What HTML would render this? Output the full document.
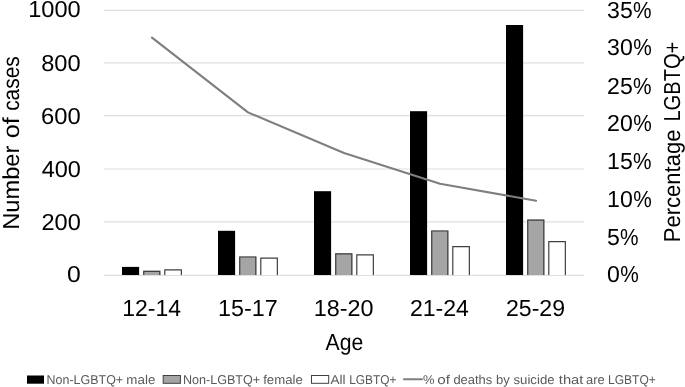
<!DOCTYPE html>
<html><head><meta charset="utf-8"><style>
html,body{margin:0;padding:0;background:#fff;}
body{width:685px;height:387px;overflow:hidden;}
svg{display:block;font-family:"Liberation Sans",sans-serif;will-change:transform;text-rendering:geometricPrecision;}
</style></head><body>
<svg width="685" height="387" viewBox="0 0 685 387">
<line x1="104" x2="584" y1="10.40" y2="10.40" stroke="#dfdfdf" stroke-width="1.1"/>
<line x1="104" x2="584" y1="62.90" y2="62.90" stroke="#dfdfdf" stroke-width="1.1"/>
<line x1="104" x2="584" y1="115.60" y2="115.60" stroke="#dfdfdf" stroke-width="1.1"/>
<line x1="104" x2="584" y1="169.00" y2="169.00" stroke="#dfdfdf" stroke-width="1.1"/>
<line x1="104" x2="584" y1="221.90" y2="221.90" stroke="#dfdfdf" stroke-width="1.1"/>
<line x1="104" x2="584" y1="275.40" y2="275.40" stroke="#dfdfdf" stroke-width="1.1"/>
<rect x="122.00" y="266.90" width="17.1" height="8.10" fill="#000"/>
<rect x="143.15" y="270.70" width="17.25" height="4.30" fill="#a5a5a5"/>
<path d="M143.75,275.0 V271.30 H159.80 V275.0" fill="none" stroke="#404040" stroke-width="1.2"/>
<rect x="164.20" y="269.20" width="17.75" height="5.80" fill="#fff"/>
<path d="M164.80,275.0 V269.80 H181.35 V275.0" fill="none" stroke="#404040" stroke-width="1.2"/>
<rect x="218.00" y="230.80" width="17.1" height="44.20" fill="#000"/>
<rect x="239.15" y="256.40" width="17.25" height="18.60" fill="#a5a5a5"/>
<path d="M239.75,275.0 V257.00 H255.80 V275.0" fill="none" stroke="#404040" stroke-width="1.2"/>
<rect x="260.20" y="257.60" width="17.75" height="17.40" fill="#fff"/>
<path d="M260.80,275.0 V258.20 H277.35 V275.0" fill="none" stroke="#404040" stroke-width="1.2"/>
<rect x="314.00" y="191.20" width="17.1" height="83.80" fill="#000"/>
<rect x="335.15" y="253.20" width="17.25" height="21.80" fill="#a5a5a5"/>
<path d="M335.75,275.0 V253.80 H351.80 V275.0" fill="none" stroke="#404040" stroke-width="1.2"/>
<rect x="356.20" y="254.30" width="17.75" height="20.70" fill="#fff"/>
<path d="M356.80,275.0 V254.90 H373.35 V275.0" fill="none" stroke="#404040" stroke-width="1.2"/>
<rect x="410.00" y="111.20" width="17.1" height="163.80" fill="#000"/>
<rect x="431.15" y="230.40" width="17.25" height="44.60" fill="#a5a5a5"/>
<path d="M431.75,275.0 V231.00 H447.80 V275.0" fill="none" stroke="#404040" stroke-width="1.2"/>
<rect x="452.20" y="246.10" width="17.75" height="28.90" fill="#fff"/>
<path d="M452.80,275.0 V246.70 H469.35 V275.0" fill="none" stroke="#404040" stroke-width="1.2"/>
<rect x="506.00" y="25.00" width="17.1" height="250.00" fill="#000"/>
<rect x="527.15" y="219.50" width="17.25" height="55.50" fill="#a5a5a5"/>
<path d="M527.75,275.0 V220.10 H543.80 V275.0" fill="none" stroke="#404040" stroke-width="1.2"/>
<rect x="548.20" y="241.00" width="17.75" height="34.00" fill="#fff"/>
<path d="M548.80,275.0 V241.60 H565.35 V275.0" fill="none" stroke="#404040" stroke-width="1.2"/>
<polyline points="152,37.6 248,112.4 344,153.0 440,183.8 536,200.7" fill="none" stroke="#7f7f7f" stroke-width="2.1" stroke-linecap="round" stroke-linejoin="round"/>
<text transform="matrix(1.0225,0,0,1,28.21,17.37)" font-size="23.1">1000</text>
<text transform="matrix(1.0237,0,0,1,41.15,70.67)" font-size="23.1">800</text>
<text transform="matrix(1.0302,0,0,1,41.11,123.57)" font-size="23.1">600</text>
<text transform="matrix(1.0164,0,0,1,41.63,176.77)" font-size="23.1">400</text>
<text transform="matrix(1.0192,0,0,1,41.52,229.77)" font-size="23.1">200</text>
<text transform="matrix(1.0732,0,0,1,66.91,282.47)" font-size="23.1">0</text>
<text x="607.1" y="17.62" font-size="23.1">35</text>
<text transform="matrix(0.9032,0,0,1,632.95,17.62)" font-size="23.1">%</text>
<text x="607.1" y="55.37" font-size="23.1">30</text>
<text transform="matrix(0.9032,0,0,1,633.15,55.37)" font-size="23.1">%</text>
<text x="607.1" y="93.57" font-size="23.1">25</text>
<text transform="matrix(0.9032,0,0,1,632.95,93.57)" font-size="23.1">%</text>
<text x="607.1" y="131.07" font-size="23.1">20</text>
<text transform="matrix(0.9032,0,0,1,633.15,131.07)" font-size="23.1">%</text>
<text x="607.1" y="169.32" font-size="23.1">15</text>
<text transform="matrix(0.9032,0,0,1,632.95,169.32)" font-size="23.1">%</text>
<text x="607.1" y="206.97" font-size="23.1">10</text>
<text transform="matrix(0.9032,0,0,1,633.15,206.97)" font-size="23.1">%</text>
<text x="607.1" y="244.67" font-size="23.1">5</text>
<text transform="matrix(0.9032,0,0,1,620.11,244.67)" font-size="23.1">%</text>
<text x="607.1" y="282.37" font-size="23.1">0</text>
<text transform="matrix(0.9032,0,0,1,620.31,282.37)" font-size="23.1">%</text>
<text transform="matrix(0.9948,0,0,1,122.26,315.80)" font-size="23.1">12-14</text>
<text transform="matrix(1.0101,0,0,1,218.03,315.80)" font-size="23.1">15-17</text>
<text transform="matrix(1.0113,0,0,1,313.83,315.80)" font-size="23.1">18-20</text>
<text transform="matrix(0.9985,0,0,1,409.95,315.80)" font-size="23.1">21-24</text>
<text transform="matrix(1.0013,0,0,1,505.94,315.80)" font-size="23.1">25-29</text>
<text transform="matrix(0.9183,0,0,1,325.50,350.20)" font-size="23.1">Age</text>
<text transform="translate(18.90,229.79) rotate(-90) scale(1.0247,1)" font-size="23.1">Number</text>
<text transform="translate(18.90,138.21) rotate(-90) scale(1.0960,1)" font-size="23.1">of</text>
<text transform="translate(18.90,110.83) rotate(-90) scale(0.9033,1)" font-size="23.1">cases</text>
<text transform="translate(679.50,242.26) rotate(-90) scale(0.9543,1)" font-size="23.1">Percentage</text>
<text transform="translate(679.50,121.61) rotate(-90) scale(0.8714,1)" font-size="23.1">LGBTQ+</text>
<rect x="27" y="375.5" width="17" height="8.2" fill="#000"/>
<rect x="163.2" y="375.5" width="17.2" height="7.8" fill="#a5a5a5" stroke="#404040" stroke-width="1"/>
<rect x="311.5" y="375.5" width="17.2" height="7.8" fill="#fff" stroke="#404040" stroke-width="1"/>
<line x1="404" x2="422" y1="379.3" y2="379.3" stroke="#7f7f7f" stroke-width="2.1" stroke-linecap="round"/>
<text transform="matrix(0.9736,0,0,1,46.60,383.70)" font-size="12.8" fill="#595959">Non-LGBTQ+</text>
<text transform="matrix(1.0442,0,0,1,126.36,383.70)" font-size="12.8" fill="#595959">male</text>
<text transform="matrix(0.9827,0,0,1,182.89,383.70)" font-size="12.8" fill="#595959">Non-LGBTQ+</text>
<text transform="matrix(1.0328,0,0,1,263.17,383.70)" font-size="12.8" fill="#595959">female</text>
<text transform="matrix(1.0565,0,0,1,330.60,383.70)" font-size="12.8" fill="#595959">All</text>
<text transform="matrix(0.9298,0,0,1,349.15,383.70)" font-size="12.8" fill="#595959">LGBTQ+</text>
<text transform="matrix(1.0127,0,0,1,422.98,383.70)" font-size="12.8" fill="#595959">%</text>
<text transform="matrix(1.1867,0,0,1,437.19,383.70)" font-size="12.8" fill="#595959">of</text>
<text transform="matrix(1.0106,0,0,1,453.38,383.70)" font-size="12.8" fill="#595959">deaths</text>
<text transform="matrix(1.0204,0,0,1,495.89,383.70)" font-size="12.8" fill="#595959">by</text>
<text transform="matrix(1.0305,0,0,1,513.50,383.70)" font-size="12.8" fill="#595959">suicide</text>
<text transform="matrix(1.1528,0,0,1,558.80,383.70)" font-size="12.8" fill="#595959">that</text>
<text transform="matrix(1.0110,0,0,1,585.98,383.70)" font-size="12.8" fill="#595959">are</text>
<text transform="matrix(0.9399,0,0,1,608.04,383.70)" font-size="12.8" fill="#595959">LGBTQ+</text>
</svg>
</body></html>
